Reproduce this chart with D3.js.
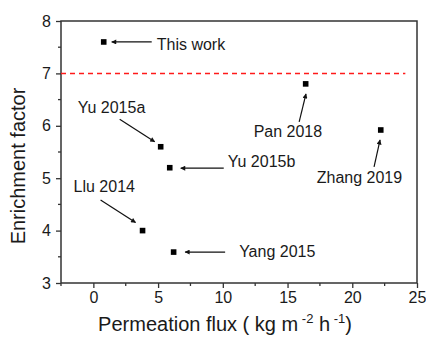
<!DOCTYPE html>
<html>
<head>
<meta charset="utf-8">
<script src="https://cdn.jsdelivr.net/npm/d3@7"></script>
<style>
  html, body { margin: 0; padding: 0; background: #fff; }
  svg { display: block; font-family: "Liberation Sans", Arial, sans-serif; }
</style>
</head>
<body>
<svg id="chart" width="426" height="337"></svg>
<script>
// Literature comparison: permeation flux vs. enrichment factor
const studies = ["This work", "Yu 2015a", "Yu 2015b", "Llu 2014", "Yang 2015", "Pan 2018", "Zhang 2019"];
const flux = [0.8, 5.2, 5.9, 3.8, 6.2, 16.4, 22.2];
const enrichment = [7.6, 5.6, 5.2, 4.0, 3.59, 6.8, 5.92];
const referenceLevel = 7;
const xTicks = [0, 5, 10, 15, 20, 25];
const yTicks = [3, 4, 5, 6, 7, 8];

// Label placement for each annotation (pixel offsets from its point)
const labelLayout = [
  { tx: 53, ty: 8, ax1: 48, ay1: 0, ax2: 8, ay2: 0 },
  { tx: -83, ty: -33.5, ax1: -41, ay1: -27.5, ax2: -6, ay2: -5 },
  { tx: 58, ty: -0.5, ax1: 54, ay1: 0.5, ax2: 11, ay2: 0.5 },
  { tx: -69, ty: -38.5, ax1: -42, ay1: -30.5, ax2: -7, ay2: -8 },
  { tx: 65.5, ty: 5, ax1: 51.5, ay1: 0, ax2: 11.5, ay2: 0 },
  { tx: -52, ty: 53, ax1: -6.5, ay1: 38, ax2: 0.3, ay2: 10 },
  { tx: -64, ty: 53.5, ax1: -6.7, ay1: 37, ax2: -0.7, ay2: 10 }
];

const svg = d3.select("#chart");
const plotLeft = 61, plotRight = 417, plotTop = 21, plotBottom = 283;

const x = d3.scaleLinear().domain([-2.5, 25]).range([plotLeft, plotRight]);
const y = d3.scaleLinear().domain([3, 8]).range([plotBottom, plotTop]);

const axisColor = "#333";
const textColor = "#1a1a1a";

svg.append("defs").append("marker")
  .attr("id", "arrowhead")
  .attr("viewBox", "0 0 10 10")
  .attr("refX", 9).attr("refY", 5)
  .attr("markerWidth", 7).attr("markerHeight", 5)
  .attr("markerUnits", "userSpaceOnUse")
  .attr("orient", "auto")
  .append("path")
  .attr("d", "M0,0 L10,5 L0,10 Z")
  .attr("fill", "#111");

// Bottom axis with minor ticks
const xMinor = d3.range(-2.5, 25.01, 2.5).filter(v => Math.abs(v % 5) > 0.01);
const gx = svg.append("g").attr("transform", `translate(0,${plotBottom})`);
gx.call(d3.axisBottom(x).tickValues(xTicks).tickSize(5).tickPadding(4).tickFormat(d3.format("d")));
gx.append("g").selectAll("line").data(xMinor).join("line")
  .attr("x1", d => x(d)).attr("x2", d => x(d)).attr("y1", 0).attr("y2", 3);

// Left axis with minor ticks
const yMinor = d3.range(3.5, 8, 1);
const gy = svg.append("g").attr("transform", `translate(${plotLeft},0)`);
gy.call(d3.axisLeft(y).tickValues(yTicks).tickSize(5).tickPadding(5).tickFormat(d3.format("d")));
gy.append("g").selectAll("line").data(yMinor).join("line")
  .attr("y1", d => y(d)).attr("y2", d => y(d)).attr("x1", 0).attr("x2", -3);

[gx, gy].forEach(g => {
  g.select(".domain").remove();
  g.selectAll("line").attr("stroke", axisColor).attr("stroke-width", 1.3);
  g.selectAll("text").attr("fill", textColor).attr("font-size", 16)
    .attr("font-family", "'Liberation Sans', Arial, sans-serif");
});

// Frame
svg.append("rect")
  .attr("x", plotLeft).attr("y", plotTop)
  .attr("width", plotRight - plotLeft).attr("height", plotBottom - plotTop)
  .attr("fill", "none").attr("stroke", axisColor).attr("stroke-width", 1.5);

// Reference level
svg.append("line")
  .attr("x1", x(-2.5)).attr("x2", x(24.1))
  .attr("y1", y(referenceLevel)).attr("y2", y(referenceLevel))
  .attr("stroke", "#ff1a1a").attr("stroke-width", 1.5)
  .attr("stroke-dasharray", "5,4");

// Points
const pts = studies.map((s, i) => ({ name: s, fx: flux[i], ef: enrichment[i], lay: labelLayout[i] }));
svg.append("g").selectAll("rect").data(pts).join("rect")
  .attr("x", d => x(d.fx) - 2.8).attr("y", d => y(d.ef) - 2.8)
  .attr("width", 5.6).attr("height", 5.6)
  .attr("fill", "#000");

// Annotation arrows and labels
const ann = svg.append("g");
ann.selectAll("line").data(pts).join("line")
  .attr("x1", d => x(d.fx) + d.lay.ax1).attr("y1", d => y(d.ef) + d.lay.ay1)
  .attr("x2", d => x(d.fx) + d.lay.ax2).attr("y2", d => y(d.ef) + d.lay.ay2)
  .attr("stroke", "#111").attr("stroke-width", 1.2)
  .attr("marker-end", "url(#arrowhead)");
ann.selectAll("text").data(pts).join("text")
  .attr("x", d => x(d.fx) + d.lay.tx).attr("y", d => y(d.ef) + d.lay.ty)
  .attr("font-size", 16).attr("fill", textColor)
  .text(d => d.name);

// Axis titles
const xt = svg.append("text")
  .attr("x", 225).attr("y", 331)
  .attr("text-anchor", "middle").attr("font-size", 20).attr("fill", textColor);
xt.append("tspan").text("Permeation flux ( kg m");
xt.append("tspan").attr("dy", -8).attr("font-size", 13).text(" -2");
xt.append("tspan").attr("dy", 8).text(" h");
xt.append("tspan").attr("dy", -8).attr("font-size", 13).text(" -1");
xt.append("tspan").attr("dy", 8).text(")");

svg.append("text")
  .attr("transform", `translate(25,${166}) rotate(-90)`)
  .attr("text-anchor", "middle").attr("font-size", 20).attr("fill", textColor)
  .text("Enrichment factor");
</script>
</body>
</html>
